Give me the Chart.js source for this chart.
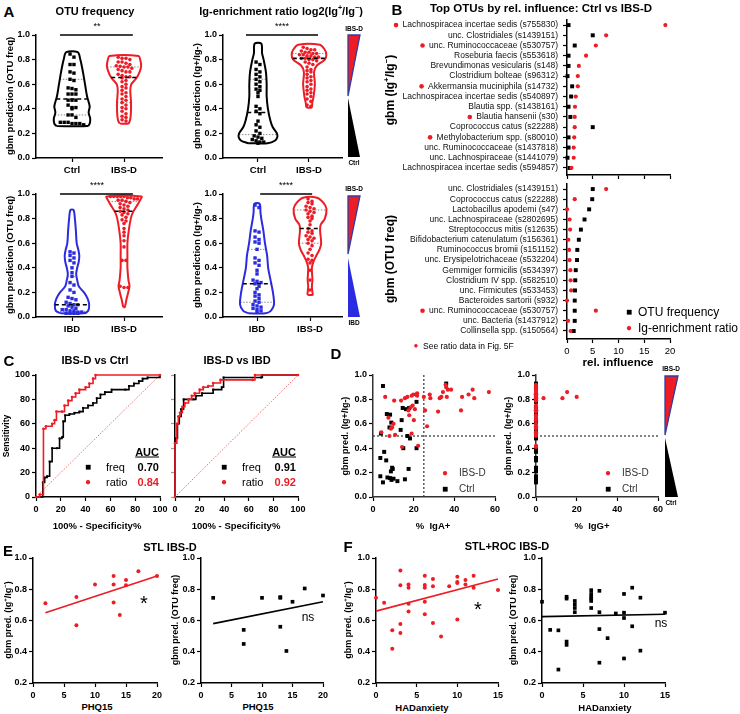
<!DOCTYPE html>
<html>
<head>
<meta charset="utf-8">
<script src="https://cdn.jsdelivr.net/npm/chart.js@4"></script>
<style>
  body { margin: 0; background: #fff; }
  #fig { position: relative; width: 740px; height: 714px; overflow: hidden; background: #fff;
         font-family: "Liberation Sans", Arial, sans-serif; color: #000; }
  #fig canvas { position: absolute; }
  .t { position: absolute; white-space: nowrap; line-height: 1; }
  sup { font-size: 65%; line-height: 0; }
</style>
</head>
<body>
<div id="fig">
  <svg width="740" height="714" style="position:absolute;left:0;top:0">
    <!-- group indicator wedges -->
    <polygon points="348,35 360,35 348,96" fill="#ee1c25" stroke="#2f3f9f" stroke-width="1.3"/>
    <polygon points="348,98 348,157 360,157" fill="#000"/>
    <polygon points="348,196 360,196 348,254" fill="#ee1c25" stroke="#2f3f9f" stroke-width="1.3"/>
    <polygon points="348,258 348,317 360,317" fill="#2b2be0"/>
    <polygon points="665,376 678,376 665,435" fill="#ee1c25" stroke="#2f3f9f" stroke-width="1.3"/>
    <polygon points="665,438 665,497 678,497" fill="#000"/>
  </svg>
</div>
<script>
const RED = '#ee1c25', BLUE = '#2b2be0', BLK = '#000';
const FONT = '"Liberation Sans", Arial, sans-serif';

// ---------- Panel A: violin data (gbm predictions) ----------
const catsCtrl = ['Ctrl', 'IBS-D'];
const catsIbd = ['IBD', 'IBS-D'];

const otuCtrl = [0.845, 0.82, 0.76, 0.76, 0.70, 0.69, 0.64, 0.63, 0.57, 0.565, 0.555, 0.52, 0.52, 0.52, 0.47, 0.47, 0.47, 0.43, 0.41, 0.41, 0.40, 0.35, 0.35, 0.33, 0.29, 0.29, 0.29, 0.28, 0.28, 0.28, 0.27];
const otuIbsd = [0.82, 0.81, 0.81, 0.80, 0.78, 0.78, 0.77, 0.76, 0.75, 0.745, 0.74, 0.74, 0.73, 0.72, 0.71, 0.70, 0.70, 0.68, 0.67, 0.66, 0.66, 0.65, 0.63, 0.62, 0.60, 0.58, 0.57, 0.55, 0.53, 0.52, 0.50, 0.48, 0.47, 0.45, 0.43, 0.41, 0.40, 0.38, 0.36, 0.34, 0.33, 0.31, 0.30];
const ratioCtrl = [0.78, 0.76, 0.72, 0.70, 0.68, 0.66, 0.64, 0.62, 0.60, 0.58, 0.56, 0.55, 0.53, 0.50, 0.42, 0.40, 0.38, 0.36, 0.30, 0.27, 0.25, 0.22, 0.20, 0.18, 0.17, 0.16, 0.15, 0.14, 0.13, 0.13, 0.12];
const ratioIbsd = [0.90, 0.89, 0.88, 0.88, 0.87, 0.86, 0.86, 0.85, 0.85, 0.84, 0.84, 0.83, 0.83, 0.82, 0.82, 0.81, 0.81, 0.80, 0.80, 0.79, 0.78, 0.77, 0.76, 0.74, 0.72, 0.71, 0.70, 0.68, 0.66, 0.65, 0.63, 0.62, 0.60, 0.58, 0.56, 0.55, 0.53, 0.52, 0.50, 0.48, 0.46, 0.43, 0.42];
const otuIbd = [0.53, 0.52, 0.50, 0.48, 0.46, 0.44, 0.40, 0.36, 0.33, 0.28, 0.26, 0.22, 0.20, 0.16, 0.15, 0.14, 0.12, 0.11, 0.10, 0.10, 0.09, 0.08, 0.07, 0.06, 0.06, 0.05, 0.05, 0.04, 0.04, 0.03, 0.03, 0.03, 0.03];
const otuIbsd2 = [0.98, 0.98, 0.98, 0.98, 0.98, 0.97, 0.97, 0.96, 0.96, 0.95, 0.95, 0.94, 0.93, 0.92, 0.91, 0.90, 0.89, 0.88, 0.87, 0.86, 0.85, 0.84, 0.83, 0.81, 0.79, 0.78, 0.76, 0.72, 0.69, 0.66, 0.62, 0.57, 0.46, 0.46, 0.25, 0.24, 0.24];
const ratioIbd = [0.91, 0.89, 0.70, 0.69, 0.65, 0.63, 0.61, 0.60, 0.55, 0.48, 0.46, 0.44, 0.42, 0.38, 0.35, 0.30, 0.29, 0.28, 0.27, 0.25, 0.23, 0.20, 0.18, 0.17, 0.15, 0.13, 0.12, 0.10, 0.09, 0.08, 0.07, 0.06, 0.05, 0.04];
const ratioIbsd2 = [0.96, 0.94, 0.93, 0.92, 0.90, 0.89, 0.88, 0.87, 0.86, 0.85, 0.84, 0.82, 0.81, 0.80, 0.78, 0.75, 0.72, 0.70, 0.69, 0.68, 0.66, 0.65, 0.64, 0.63, 0.62, 0.60, 0.58, 0.55, 0.52, 0.50, 0.47, 0.46, 0.44, 0.38, 0.30, 0.22];

// violin outlines: y levels and half widths (category units)
const vOtuCtrlY = [0.26, 0.28, 0.32, 0.37, 0.42, 0.5, 0.6, 0.7, 0.8, 0.86];
const vOtuCtrlW = [0.30, 0.34, 0.35, 0.32, 0.34, 0.29, 0.25, 0.21, 0.16, 0.11];
const vOtuIbsdY = [0.28, 0.30, 0.35, 0.45, 0.55, 0.6, 0.65, 0.7, 0.75, 0.8, 0.83];
const vOtuIbsdW = [0.08, 0.11, 0.13, 0.135, 0.12, 0.14, 0.24, 0.30, 0.33, 0.31, 0.28];
const vRatioCtrlY = [0.12, 0.14, 0.17, 0.2, 0.25, 0.3, 0.4, 0.5, 0.6, 0.7, 0.8, 0.85, 0.93];
const vRatioCtrlW = [0.19, 0.33, 0.38, 0.37, 0.29, 0.245, 0.195, 0.17, 0.17, 0.155, 0.11, 0.08, 0.065];
const vRatioIbsdY = [0.41, 0.45, 0.5, 0.6, 0.7, 0.75, 0.8, 0.84, 0.88, 0.92];
const vRatioIbsdW = [0.05, 0.065, 0.09, 0.115, 0.10, 0.15, 0.31, 0.34, 0.31, 0.21];
const vOtuIbdY = [0.03, 0.05, 0.1, 0.15, 0.2, 0.25, 0.3, 0.35, 0.4, 0.45, 0.5, 0.55, 0.6, 0.7, 0.8, 0.87];
const vOtuIbdW = [0.22, 0.31, 0.33, 0.30, 0.23, 0.13, 0.10, 0.08, 0.10, 0.13, 0.14, 0.12, 0.09, 0.075, 0.055, 0.03];
const vOtuIbsd2Y = [0.08, 0.15, 0.2, 0.25, 0.3, 0.4, 0.5, 0.6, 0.7, 0.8, 0.85, 0.9, 0.95, 0.98];
const vOtuIbsd2W = [0.015, 0.05, 0.08, 0.105, 0.085, 0.065, 0.065, 0.065, 0.09, 0.13, 0.17, 0.24, 0.31, 0.335];
const vRatioIbdY = [0.03, 0.05, 0.1, 0.2, 0.3, 0.4, 0.5, 0.6, 0.7, 0.8, 0.85, 0.92];
const vRatioIbdW = [0.16, 0.26, 0.32, 0.30, 0.255, 0.21, 0.19, 0.15, 0.12, 0.08, 0.065, 0.05];
const vRatioIbsd2Y = [0.18, 0.2, 0.25, 0.3, 0.4, 0.45, 0.5, 0.55, 0.6, 0.7, 0.75, 0.8, 0.88, 0.93, 0.97];
const vRatioIbsd2W = [0.05, 0.045, 0.035, 0.045, 0.035, 0.065, 0.12, 0.18, 0.21, 0.19, 0.2, 0.28, 0.31, 0.25, 0.13];

// quartiles [Q1, median, Q3]
const qOtuCtrl = [0.35, 0.48, 0.64], qOtuIbsd = [0.45, 0.655, 0.74];
const qRatioCtrl = [0.19, 0.37, 0.64], qRatioIbsd = [0.66, 0.81, 0.85];
const qOtuIbd = [0.045, 0.10, 0.33], qOtuIbsd2 = [0.62, 0.86, 0.94];
const qRatioIbd = [0.12, 0.27, 0.55], qRatioIbsd2 = [0.60, 0.72, 0.87];

// ---------- Panel B ----------
const bTopLabels = ['Lachnospiracea incertae sedis (s755830)', 'unc. Clostridiales (s1439151)', 'unc. Ruminococcaceae (s530757)', 'Roseburia faecis (s553618)', 'Brevundimonas vesicularis (s148)', 'Clostridium bolteae (s96312)', 'Akkermansia muciniphila (s14732)', 'Lachnospiracea incertae sedis (s540897)', 'Blautia spp. (s1438161)', 'Blautia hansenii (s30)', 'Coprococcus catus (s22288)', 'Methylobacterium spp. (s80010)', 'unc. Ruminococcaceae (s1437818)', 'unc. Lachnospiraceae (s1441079)', 'Lachnospiracea incertae sedis (s594857)'];
const bTopFreq = [0.3, 5.0, 1.5, 0.3, 0.3, 0.1, 1.0, 0.8, 0.3, 0.65, 5.0, 0.3, 0.3, 0.1, 0.5];
const bTopRatio = [19.1, 7.6, 5.6, 3.7, 2.3, 2.1, 2.1, 1.7, 1.55, 1.5, 1.5, 1.4, 1.3, 1.3, 0.85];
const bTopFlag = [1, 0, 1, 0, 0, 0, 1, 0, 0, 1, 0, 1, 0, 0, 0];
const bBotLabels = ['unc. Clostridiales (s1439151)', 'Coprococcus catus (s22288)', 'Lactobacillus apodemi (s47)', 'unc. Lachnospiraceae (s2802695)', 'Streptococcus mitis (s12635)', 'Bifidobacterium catenulatum (s156361)', 'Ruminococcus bromii (s151152)', 'unc. Erysipelotrichaceae (s532204)', 'Gemmiger formicilis (s534397)', 'Clostridium IV spp. (s582510)', 'unc. Firmicutes (s533453)', 'Bacteroides sartorii (s932)', 'unc. Ruminococcaceae (s530757)', 'unc. Bacteria (s1437912)', 'Collinsella spp. (s150564)'];
const bBotFreq = [5.0, 4.9, 4.3, 3.4, 2.7, 2.3, 2.0, 1.95, 1.7, 1.6, 1.55, 1.5, 1.5, 1.5, 1.3];
const bBotRatio = [7.6, 1.5, 0.0, 0.5, 0.6, 0.26, 0.4, 0.5, 0.65, 0.7, 0.8, 0.0, 5.6, 0.2, 0.7];
const bBotFlag = [0, 0, 0, 0, 0, 0, 0, 0, 0, 0, 0, 0, 1, 0, 0];

// ---------- Panel C: ROC vertices (100% - specificity, sensitivity) ----------
const rocCtrlFreqX = [0, 5.5, 7, 9, 11, 13, 17, 19, 21, 22, 23.5, 27, 31, 35, 38, 42, 46, 49, 52, 55.6, 61, 72, 75, 79, 83, 86, 90, 100];
const rocCtrlFreqY = [0, 12, 16, 17, 29, 40, 40, 48, 49, 62, 67, 68, 69, 70, 73, 75, 77, 81, 84, 86, 88, 88, 91, 93, 95, 97, 98, 100];
const rocCtrlRatioX = [0, 3, 6, 8, 13, 15, 16.5, 21, 23, 26, 29, 32, 35, 40, 43, 46, 48, 100];
const rocCtrlRatioY = [0, 2, 56, 58, 60, 63, 70, 70, 75, 79, 82, 85, 88, 90, 93, 97, 100, 100];
const rocIbdFreqX = [0, 0, 2, 3.5, 5, 7, 15, 17, 22, 31, 38, 39.5, 70, 71, 100];
const rocIbdFreqY = [0, 48, 60, 66, 72, 80, 80, 83, 85, 88, 90, 98, 98, 100, 100];
const rocIbdRatioX = [0, 0, 1.5, 2.7, 4, 6, 8, 11, 13.6, 16, 20, 23, 27, 31, 37, 63, 65, 100];
const rocIbdRatioY = [0, 44, 60, 66, 69, 74, 77, 80, 83, 85, 88, 90, 91, 93.5, 96, 96, 100, 100];
const aucLabels = ['freq', 'ratio'];
const aucCtrl = ['0.70', '0.84'];
const aucIbd = ['0.91', '0.92'];

// ---------- Panel D: % Ig-coated vs gbm prediction ----------
const igaRedX = [4.1, 6.0, 7.6, 8.1, 8.8, 9.4, 10.1, 10.4, 10.9, 13.8, 14.3, 15.7, 16.9, 17.4, 17.8, 18.5, 19.0, 19.5, 19.8, 20.1, 20.6, 21.1, 21.7, 22.2, 21.7, 19.0, 25.0, 25.6, 26.6, 27.9, 28.2, 32.0, 32.8, 33.6, 34.4, 35.7, 36.0, 36.3, 36.8, 38.4, 43.3, 43.8, 47.0, 49.0, 49.8, 57.0];
const igaRedY = [0.53, 0.82, 0.65, 0.50, 0.56, 0.57, 0.60, 0.79, 0.51, 0.79, 0.41, 0.81, 0.82, 0.71, 0.67, 0.735, 0.52, 0.75, 0.84, 0.63, 0.72, 0.84, 0.85, 0.42, 0.83, 0.83, 0.82, 0.71, 0.58, 0.84, 0.81, 0.70, 0.81, 0.82, 0.86, 0.92, 0.90, 0.82, 0.88, 0.88, 0.71, 0.82, 0.84, 0.88, 0.81, 0.86];
const iggRedX = [0, 0, 0, 0, 0, 0, 0, 0, 0, 0, 0, 0, 0, 0, 0, 0, 0, 0, 0, 0, 0, 0, 0, 0, 0, 0, 0, 0, 0, 0, 3.7, 0, 0, 20, 15.3, 0, 0, 0, 0, 0, 0, 0, 0, 0, 13, 0];
const igaCtrlX = [4.9, 3.9, 3.6, 3.6, 4.9, 5.5, 6.5, 7.1, 6.8, 8.4, 8.1, 9.0, 8.4, 8.8, 9.4, 9.1, 9.7, 10.1, 12.0, 13.6, 14.1, 14.6, 14.9, 15.7, 16.2, 16.9, 17.8, 18.2, 17.5, 21.4, 21.4, 36.0];
const igaCtrlY = [0.91, 0.52, 0.32, 0.17, 0.12, 0.37, 0.30, 0.16, 0.68, 0.675, 0.57, 0.61, 0.155, 0.21, 0.24, 0.14, 0.23, 0.15, 0.13, 0.55, 0.63, 0.73, 0.40, 0.145, 0.72, 0.50, 0.73, 0.48, 0.23, 0.40, 0.78, 0.93];
const iggCtrlX = [0, 0, 0, 0, 0, 0, 0, 0, 0, 0, 0, 0, 0, 0, 0, 0, 0, 0, 0, 0, 0, 0, 0, 0, 0, 0, 0, 0, 0, 0, 0, 0];

// ---------- Panel E: STL IBS-D vs PHQ15 ----------
const eRedX = [2, 7, 7, 10, 13, 13, 13, 14, 15, 15, 17, 20];
const eRedY = [0.71, 0.75, 0.57, 0.83, 0.885, 0.83, 0.715, 0.635, 0.86, 0.825, 0.915, 0.885];
const eFitRedX = [2, 20], eFitRedY = [0.65, 0.885];
const eBlkX = [2, 7, 7, 10, 13, 13, 13, 14, 15, 17, 20];
const eBlkY = [0.745, 0.54, 0.45, 0.745, 0.75, 0.745, 0.56, 0.405, 0.72, 0.805, 0.76];
const eFitBlkX = [2, 20], eFitBlkY = [0.58, 0.72];

// ---------- Panel F: STL+ROC IBS-D vs HADanxiety ----------
const fRedX = [0, 1, 2, 2, 3, 3, 3, 3, 4, 4, 4, 4, 6, 6, 6, 6, 6, 7, 7, 7, 8, 9, 10, 10, 10, 10, 11, 11, 12, 12, 15];
const fRedY = [0.746, 0.714, 0.537, 0.42, 0.92, 0.826, 0.578, 0.52, 0.83, 0.81, 0.707, 0.657, 0.886, 0.828, 0.81, 0.72, 0.64, 0.865, 0.82, 0.584, 0.498, 0.82, 0.88, 0.847, 0.84, 0.606, 0.86, 0.83, 0.886, 0.81, 0.796];
const fFitRedX = [0, 15], fFitRedY = [0.66, 0.865];
const fBlkX = [0, 1, 2, 2, 3, 3, 3, 3, 4, 4, 4, 4, 6, 6, 6, 6, 6, 6, 7, 7, 7, 7, 8, 9, 10, 10, 10, 10, 11, 11, 12, 12, 15];
const fBlkY = [0.72, 0.54, 0.537, 0.286, 0.752, 0.74, 0.465, 0.444, 0.725, 0.703, 0.68, 0.653, 0.794, 0.77, 0.752, 0.74, 0.725, 0.68, 0.79, 0.653, 0.545, 0.33, 0.487, 0.645, 0.77, 0.65, 0.616, 0.357, 0.81, 0.563, 0.746, 0.407, 0.65];
const fFitBlkX = [0, 15], fFitBlkY = [0.625, 0.64];

// ---------- helpers ----------
const fig = document.getElementById('fig');

function txt(x, y, html, css, mode) {
  const d = document.createElement('div');
  d.className = 't';
  d.innerHTML = html;
  d.style.cssText += css || '';
  d.style.left = x + 'px';
  d.style.top = y + 'px';
  if (mode === 'rot') d.style.transform = 'translate(-50%,-50%) rotate(-90deg)';
  else if (mode === 'left') d.style.transform = 'translate(0,-50%)';
  else if (mode === 'right') d.style.transform = 'translate(-100%,-50%)';
  else d.style.transform = 'translate(-50%,-50%)';
  fig.appendChild(d);
}

const xy = (xs, ys) => xs.map((x, i) => ({ x, y: ys[i] }));
const pts = (data, color, style, r, order) => ({
  data, showLine: false, pointStyle: style, pointRadius: r, backgroundColor: color,
  borderColor: color, pointBorderWidth: 0, clip: false, order: order || 0
});
const line = (data, color, w, dash, extra) => Object.assign({
  data, showLine: true, pointRadius: 0, borderColor: color, borderWidth: w,
  borderDash: dash || [], fill: false, clip: false
}, extra || {});

function lin(min, max, ticks, o) {
  o = o || {};
  return {
    type: 'linear', min, max, reverse: !!o.reverse,
    border: { display: true, color: o.axis || '#000', width: 1.5 },
    grid: { drawOnChartArea: false, drawTicks: true, tickLength: 4, color: o.tick || '#000', tickWidth: 1.2 },
    ticks: {
      display: o.labels !== false, autoSkip: false, maxRotation: 0, minRotation: 0,
      color: o.color || '#000', padding: o.pad == null ? 2 : o.pad,
      font: { family: FONT, size: o.size || 9, weight: o.weight || 'bold' },
      callback: o.cb || (v => v)
    },
    afterBuildTicks: s => { s.ticks = ticks.map(v => ({ value: v })); }
  };
}
const dec1 = v => v.toFixed(1);

function plot(box, L, B, scales, datasets, plugins) {
  const [x0, y0, x1, y1] = box, T = 10, R = 14;
  const cv = document.createElement('canvas');
  cv.width = x1 - x0 + L + R;
  cv.height = y1 - y0 + T + B;
  cv.style.left = (x0 - L) + 'px';
  cv.style.top = (y0 - T) + 'px';
  fig.appendChild(cv);
  scales.x.afterFit = s => { s.height = B; s.paddingLeft = 0; s.paddingRight = 0; };
  scales.y.afterFit = s => { s.width = L; s.paddingTop = 0; s.paddingBottom = 0; };
  return new Chart(cv, {
    type: 'scatter',
    data: { datasets },
    options: {
      responsive: false, animation: false, events: [],
      layout: { padding: { top: T, right: R, left: 0, bottom: 0 }, autoPadding: false },
      scales,
      plugins: { legend: { display: false }, tooltip: { enabled: false } }
    },
    plugins: plugins || []
  });
}

// ---------- violins ----------
function interpW(ys, ws, v) {
  if (v <= ys[0]) return ws[0];
  for (let i = 1; i < ys.length; i++) {
    if (v <= ys[i]) {
      const t = (v - ys[i - 1]) / (ys[i] - ys[i - 1]);
      return ws[i - 1] + t * (ws[i] - ws[i - 1]);
    }
  }
  return ws[ws.length - 1];
}
function violinPath(c, ys, ws) {
  const left = ys.map((y, i) => ({ x: c - ws[i], y }));
  const right = ys.map((y, i) => ({ x: c + ws[i], y })).reverse();
  return left.concat(right, [left[0]]);
}
// simple row-based swarm so the dots sit inside the violin
function swarm(c, vals, ys, ws) {
  const sorted = vals.slice().sort((a, b) => b - a);
  const bins = [];
  sorted.forEach(v => {
    const last = bins[bins.length - 1];
    if (last && last.top - v < 0.028) last.v.push(v); else bins.push({ top: v, v: [v] });
  });
  const out = [];
  bins.forEach(b => {
    const n = b.v.length;
    const half = Math.max(interpW(ys, ws, b.v[Math.floor(n / 2)]) * 0.78, 0.01);
    const dx = n > 1 ? Math.min(0.075, 2 * half / (n - 1)) : 0;
    b.v.forEach((v, k) => out.push({ x: c + (k - (n - 1) / 2) * dx, y: v }));
  });
  return out;
}

function violinChart(box, xmin, xmax, cats, groups, sig) {
  const ds = [];
  groups.forEach((g, i) => {
    const c = i + 1;
    ds.push(line(violinPath(c, g.ys, g.ws), g.color, 2, [], { tension: 0.3, order: 2 }));
    g.q.forEach((q, k) => {
      const w = interpW(g.ys, g.ws, q);
      const d = [{ x: c - w, y: q }, { x: c + w, y: q }];
      if (k === 1) ds.push(line(d, '#000', 1.6, [4, 3], { order: 0 }));
      else ds.push(line(d, '#8a8a8a', 1, [1.5, 1.5], { order: 3 }));
    });
    ds.push(pts(swarm(c, g.vals, g.ys, g.ws), g.color, g.style, g.style === 'rect' ? 2.4 : 1.8, 1));
  });
  ds.push(line([{ x: sig[0], y: 1.0 }, { x: sig[1], y: 1.0 }], '#000', 1.5));
  plot(box, 30, 18, {
    x: lin(xmin, xmax, [1, 2], { size: 9.5, pad: 3, cb: v => cats[v - 1] }),
    y: lin(0, 1, [0, 0.2, 0.4, 0.6, 0.8, 1.0], { cb: dec1 })
  }, ds);
}

// ---------- Panel A ----------
violinChart([36, 35, 162, 158], 0.308, 2.73, catsCtrl, [
  { vals: otuCtrl, ys: vOtuCtrlY, ws: vOtuCtrlW, q: qOtuCtrl, color: BLK, style: 'rect' },
  { vals: otuIbsd, ys: vOtuIbsdY, ws: vOtuIbsdW, q: qOtuIbsd, color: RED, style: 'circle' }
], [0.77, 2.17]);
violinChart([223, 35, 342, 158], 0.314, 2.647, catsCtrl, [
  { vals: ratioCtrl, ys: vRatioCtrlY, ws: vRatioCtrlW, q: qRatioCtrl, color: BLK, style: 'rect' },
  { vals: ratioIbsd, ys: vRatioIbsdY, ws: vRatioIbsdW, q: qRatioIbsd, color: RED, style: 'circle' }
], [0.765, 2.177]);
violinChart([36, 194, 162, 317], 0.308, 2.73, catsIbd, [
  { vals: otuIbd, ys: vOtuIbdY, ws: vOtuIbdW, q: qOtuIbd, color: BLUE, style: 'rect' },
  { vals: otuIbsd2, ys: vOtuIbsd2Y, ws: vOtuIbsd2W, q: qOtuIbsd2, color: RED, style: 'circle' }
], [0.77, 2.17]);
violinChart([223, 194, 342, 317], 0.358, 2.603, catsIbd, [
  { vals: ratioIbd, ys: vRatioIbdY, ws: vRatioIbdW, q: qRatioIbd, color: BLUE, style: 'rect' },
  { vals: ratioIbsd2, ys: vRatioIbsd2Y, ws: vRatioIbsd2W, q: qRatioIbsd2, color: RED, style: 'circle' }
], [1.06, 2.04]);

// ---------- Panel B ----------
function flagDots(labels, flags) {
  return {
    id: 'flagDots',
    afterDraw(chart) {
      const ctx = chart.ctx, ys = chart.scales.y;
      ctx.save();
      ctx.font = '8.5px ' + FONT;
      ctx.fillStyle = RED;
      flags.forEach((f, i) => {
        if (!f) return;
        const w = ctx.measureText(labels[i]).width;
        const x = chart.chartArea.left - 4 - 5 - w - 6.5;
        ctx.beginPath();
        ctx.arc(x, ys.getPixelForValue(i), 2.3, 0, Math.PI * 2);
        ctx.fill();
      });
      ctx.restore();
    }
  };
}
function influenceChart(box, B, labels, freq, ratio, flags, ymax, showX) {
  const idx = labels.map((_, i) => i);
  plot(box, 185, B, {
    x: lin(0, 20, [0, 5, 10, 15, 20], { labels: showX, size: 9.5, weight: 'normal', pad: 3 }),
    y: lin(-0.5, ymax, idx, { reverse: true, size: 8.5, weight: 'normal', pad: 5, color: '#111', cb: v => labels[v] })
  }, [
    pts(xy(ratio, idx), RED, 'circle', 2.1, 0),
    pts(xy(freq, idx), BLK, 'rect', 2.8, 1)
  ], [flagDots(labels, flags)]);
}
influenceChart([567, 19.9, 670, 175], 6, bTopLabels, bTopFreq, bTopRatio, bTopFlag, 14.69, false);
influenceChart([567, 184, 670, 339], 18, bBotLabels, bBotFreq, bBotRatio, bBotFlag, 14.79, true);

// ---------- Panel C ----------
function rocChart(box, L, yLabels, fx, fy, rx, ry) {
  plot(box, L, 16, {
    x: lin(0, 100, [0, 20, 40, 60, 80, 100], { pad: 3 }),
    y: lin(0, 100, [0, 20, 40, 60, 80, 100], { labels: yLabels, tick: yLabels ? '#000' : '#9a9a9a' })
  }, [
    line([{ x: 0, y: 0 }, { x: 100, y: 100 }], '#f26b6b', 1, [1.5, 1.5], { order: 3 }),
    line(xy(fx, fy), BLK, 1.6, [], { stepped: 'before', pointRadius: 1.4, pointStyle: 'rect', pointBackgroundColor: BLK, pointBorderWidth: 0, order: 1 }),
    line(xy(rx, ry), RED, 1.6, [], { stepped: 'before', pointRadius: 1.3, pointStyle: 'circle', pointBackgroundColor: RED, pointBorderWidth: 0, order: 0 })
  ]);
}
rocChart([36, 375, 160, 497], 30, true, rocCtrlFreqX, rocCtrlFreqY, rocCtrlRatioX, rocCtrlRatioY);
rocChart([175, 375, 298, 497], 8, false, rocIbdFreqX, rocIbdFreqY, rocIbdRatioX, rocIbdRatioY);

// ---------- Panel D ----------
function igChart(box, rx, ry, cx, cy, vline) {
  const ds = [
    line([{ x: 0, y: 0.5 }, { x: 60, y: 0.5 }], '#333', 1.2, [2, 2], { order: 3 })
  ];
  if (vline) ds.push(line([{ x: 25, y: 0 }, { x: 25, y: 1 }], '#333', 1.2, [2, 2], { order: 3 }));
  ds.push(pts(xy(cx, cy), BLK, 'rect', 2.8, 1));
  ds.push(pts(xy(rx, ry), RED, 'circle', 2.1, 0));
  plot(box, 30, 16, {
    x: lin(0, 60, [0, 20, 40, 60], { pad: 3, axis: '#333' }),
    y: lin(0, 1, [0, 0.2, 0.4, 0.6, 0.8, 1.0], { cb: dec1, axis: '#333' })
  }, ds);
}
igChart([373, 375, 495, 497], igaRedX, igaRedY, igaCtrlX, igaCtrlY, true);
igChart([536, 375, 658, 497], iggRedX, igaRedY, iggCtrlX, igaCtrlY, false);

// ---------- Panels E and F ----------
function corrChart(box, xmax, xt, px, py, fx, fy, color, style) {
  plot(box, 30, 16, {
    x: lin(0, xmax, xt, { pad: 3 }),
    y: lin(0.2, 1.0, [0.2, 0.4, 0.6, 0.8, 1.0], { cb: dec1 })
  }, [
    line(xy(fx, fy), color, 1.6, [], { order: 1 }),
    pts(xy(px, py), color, style, style === 'rect' ? 2.6 : 2.0, 0)
  ]);
}
corrChart([33, 558, 157, 683], 20, [0, 5, 10, 15, 20], eRedX, eRedY, eFitRedX, eFitRedY, RED, 'circle');
corrChart([201, 558, 323, 683], 20, [0, 5, 10, 15, 20], eBlkX, eBlkY, eFitBlkX, eFitBlkY, BLK, 'rect');
corrChart([376, 558, 498, 683], 15, [0, 5, 10, 15], fRedX, fRedY, fFitRedX, fFitRedY, RED, 'circle');
corrChart([542, 558, 665, 683], 15, [0, 5, 10, 15], fBlkX, fBlkY, fFitBlkX, fFitBlkY, BLK, 'rect');

// ---------- text ----------
const LET = 'font-size:15px;font-weight:bold;';
const TIT = 'font-size:11px;font-weight:bold;';
const AX = 'font-size:9.5px;font-weight:bold;';
txt(9, 11, 'A', LET); txt(397, 9, 'B', LET); txt(9, 360, 'C', LET);
txt(336, 353, 'D', LET); txt(8, 550, 'E', LET); txt(348, 546, 'F', LET);

txt(95, 11, 'OTU frequency', TIT);
txt(281, 11, 'Ig-enrichment ratio log2(Ig<sup>+</sup>/Ig<sup>−</sup>)', TIT);
txt(541, 9, 'Top OTUs by rel. influence: Ctrl vs IBS-D', 'font-size:11.5px;font-weight:bold;');
txt(95, 360, 'IBS-D vs Ctrl', TIT);
txt(237, 360, 'IBS-D vs IBD', TIT);
txt(170, 547, 'STL IBS-D', TIT);
txt(507, 546, 'STL+ROC IBS-D', TIT);

// significance
txt(97, 26, '**', 'font-size:9px;');
txt(282, 26, '****', 'font-size:9px;');
txt(97, 185, '****', 'font-size:9px;');
txt(286, 185, '****', 'font-size:9px;');

// A axis titles and wedge labels
txt(10, 96, 'gbm prediction (OTU freq)', AX, 'rot');
txt(197, 96, 'gbm prediction (Ig+/Ig-)', AX, 'rot');
txt(10, 255, 'gbm prediction (OTU freq)', AX, 'rot');
txt(197, 255, 'gbm prediction (Ig+/Ig-)', AX, 'rot');
const WL = 'font-size:6.5px;font-weight:bold;';
txt(354, 29, 'IBS-D', WL); txt(354, 163, 'Ctrl', WL);
txt(354, 189, 'IBS-D', WL); txt(354, 323, 'IBD', WL);
txt(671, 369, 'IBS-D', WL); txt(671, 503, 'Ctrl', WL);

// B axis titles / legend
txt(390, 90, 'gbm (Ig<sup>+</sup>/Ig<sup>−</sup>)', 'font-size:12px;font-weight:bold;', 'rot');
txt(390, 259, 'gbm (OTU freq)', 'font-size:12px;font-weight:bold;', 'rot');
txt(618, 363, 'rel. influence', 'font-size:11.5px;font-weight:bold;');
txt(629, 312, '■', 'font-size:10px;');
txt(638, 312, 'OTU frequency', 'font-size:12px;', 'left');
txt(629, 328, '●', 'font-size:10px;color:' + RED + ';');
txt(638, 328, 'Ig-enrichment ratio', 'font-size:12px;', 'left');
txt(416, 346, '●', 'font-size:8px;color:' + RED + ';');
txt(423, 346, 'See ratio data in Fig. 5F', 'font-size:8.5px;', 'left');

// C
txt(6, 436, 'Sensitivity', 'font-size:8.5px;font-weight:bold;', 'rot');
txt(97, 526, '100% - Specificity%', AX);
txt(236, 526, '100% - Specificity%', AX);
[[88, 106, 159, aucCtrl], [224, 242, 296, aucIbd]].forEach(([mx, tx, vx, vals]) => {
  txt(vx, 452, '<u>AUC</u>', 'font-size:11px;font-weight:bold;', 'right');
  txt(mx, 467, '■', 'font-size:10px;');
  txt(mx, 482, '●', 'font-size:10px;color:' + RED + ';');
  txt(tx, 467, aucLabels[0], 'font-size:11px;', 'left');
  txt(tx, 482, aucLabels[1], 'font-size:11px;', 'left');
  txt(vx, 467, vals[0], 'font-size:11px;font-weight:bold;', 'right');
  txt(vx, 482, vals[1], 'font-size:11px;font-weight:bold;color:' + RED + ';', 'right');
});

// D
txt(345, 436, 'gbm pred. (Ig+/Ig-)', 'font-size:9px;font-weight:bold;', 'rot');
txt(508, 436, 'gbm pred. (Ig+/Ig-)', 'font-size:9px;font-weight:bold;', 'rot');
txt(433, 526, '%&nbsp; IgA+', AX);
txt(592, 526, '%&nbsp; IgG+', AX);
[[445, 459], [608, 622]].forEach(([mx, tx]) => {
  txt(mx, 473, '●', 'font-size:10px;color:' + RED + ';');
  txt(tx, 473, 'IBS-D', 'font-size:10px;color:#333;', 'left');
  txt(mx, 489, '■', 'font-size:10px;');
  txt(tx, 489, 'Ctrl', 'font-size:10px;color:#333;', 'left');
});

// E / F
txt(8, 620, 'gbm pred. (Ig<sup>+</sup>/Ig<sup>−</sup>)', 'font-size:9px;font-weight:bold;', 'rot');
txt(175, 620, 'gbm pred. (OTU freq)', 'font-size:9px;font-weight:bold;', 'rot');
txt(348, 620, 'gbm pred. (Ig<sup>+</sup>/Ig<sup>−</sup>)', 'font-size:9px;font-weight:bold;', 'rot');
txt(513, 620, 'gbm pred. (OTU freq)', 'font-size:9px;font-weight:bold;', 'rot');
txt(97, 707, 'PHQ15', AX); txt(258, 707, 'PHQ15', AX);
txt(422, 708, 'HADanxiety', AX); txt(605, 708, 'HADanxiety', AX);
txt(144, 603, '*', 'font-size:20px;');
txt(308, 617, 'ns', 'font-size:12px;');
txt(478, 609, '*', 'font-size:20px;');
txt(661, 623, 'ns', 'font-size:12px;');
</script>
</body>
</html>
